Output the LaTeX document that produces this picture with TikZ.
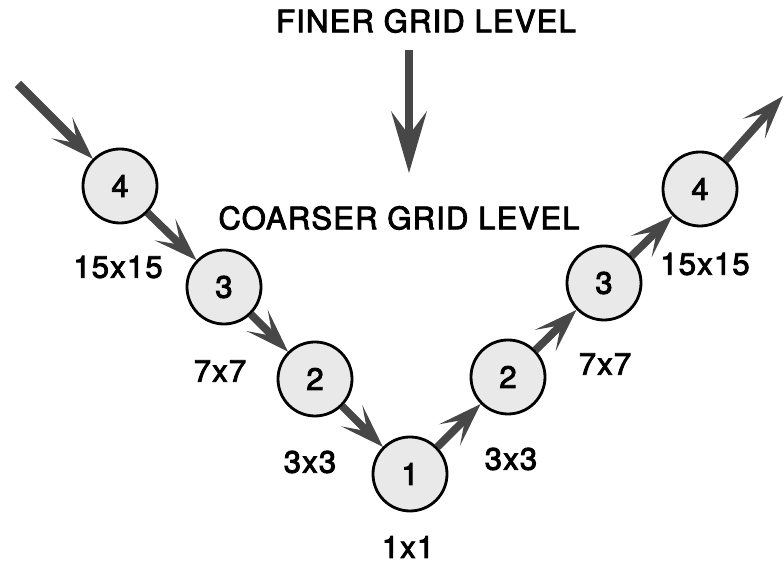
\documentclass[tikz,border=0pt]{standalone}
\usepackage{fontspec}
\setmainfont{TeX Gyre Heros}[LetterSpace=4,
  BoldFont={TeX Gyre Heros}, BoldFeatures={FakeBold=3}]
\usetikzlibrary{arrows.meta}

\begin{document}
\begin{tikzpicture}[x=0.025cm, y=0.025cm, line cap=round,
  grid/.style={circle, draw=black, line width=2pt, fill=gray!17,
    minimum size=1.85cm, inner sep=0pt, font=\fontsize{22}{26}\selectfont\bfseries},
  dims/.style={font=\fontsize{22}{26}\selectfont\bfseries},
  flow/.style={draw=black!72, line width=5.5pt, line cap=butt,
    -{Stealth[length=1.1cm, width=0.75cm, inset=0.55cm, line width=0pt]}}]
\useasboundingbox (0,0) rectangle (784,563);
% headings
\node[dims] (finer) at (426,542) {FINER GRID LEVEL};
\node[dims] (coarser) at (399,345) {COARSER GRID LEVEL};
\coordinate (dtop) at (409,513);
\coordinate (dbot) at (409,390);
\draw[flow, -{Stealth[length=1.55cm, width=0.9cm, inset=0.6cm, line width=0pt]}] (dtop) -- (dbot);
% restriction leg
\node[grid] (l4) at (120,377) {4};
\node[grid] (l3) at (224,276) {3};
\node[grid] (l2) at (315,184) {2};
\node[grid] (b1) at (410,89) {1};
% prolongation leg
\node[grid] (r2) at (508,186) {2};
\node[grid] (r3) at (604,280) {3};
\node[grid] (r4) at (700,374) {4};
% grid sizes
\node[dims] (s15l) at (118,296) {15x15};
\node[dims] (s7l) at (220,192) {7x7};
\node[dims] (s3l) at (310,101) {3x3};
\node[dims] (s1) at (408,16) {1x1};
\node[dims] (s3r) at (511,104) {3x3};
\node[dims] (s7r) at (605,199) {7x7};
\node[dims] (s15r) at (705,299) {15x15};
% cycle
\coordinate (cin) at (18,479);
\coordinate (cout) at (783,467);
\draw[flow, line width=6.5pt] (cin) -- (l4);
\draw[flow] (l4) -- (l3);
\draw[flow] (l3) -- (l2);
\draw[flow] (l2) -- (b1);
\draw[flow] (b1) -- (r2);
\draw[flow] (r2) -- (r3);
\draw[flow] (r3) -- (r4);
\draw[flow] (r4) -- (cout);
\end{tikzpicture}
\end{document}
